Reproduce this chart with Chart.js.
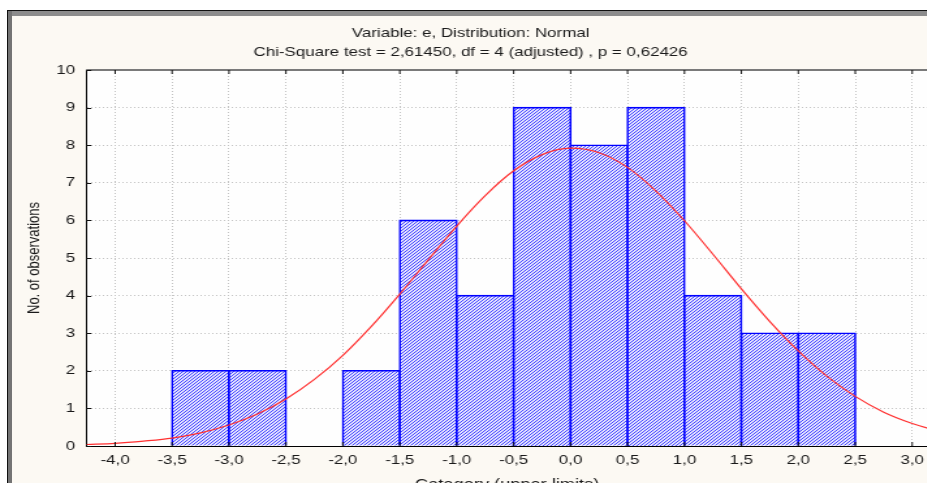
<!DOCTYPE html>
<html>
<head>
<meta charset="utf-8">
<script src="https://cdn.jsdelivr.net/npm/chart.js@4.4.0/dist/chart.umd.min.js"></script>
<style>
  html, body { margin: 0; padding: 0; width: 927px; height: 483px; overflow: hidden; background: #ffffff; }
  #frame {
    position: absolute; left: 7px; top: 10px; right: 0; bottom: 0;
    border-top: 1px solid #111; border-left: 1px solid #111;
    background: #fcf9f3;
  }
  #frame .bevelTop { position: absolute; left: 0; right: 0; top: 0; height: 5px; background: #8c8c8c; }
  #frame .bevelLeft { position: absolute; left: 0; top: 0; bottom: 0; width: 4px; background: #747474; }
  #clip { position: absolute; left: 0; top: 0; width: 927px; height: 483px; overflow: hidden; }
  /* the graph window is drawn in a wide, horizontally stretched style */
  #wrap {
    position: absolute; left: 13px; top: 16px; width: 756.9px; height: 490px;
    transform: scaleX(1.3); transform-origin: 0 0;
  }
</style>
</head>
<body>
<div id="frame"><div class="bevelTop"></div><div class="bevelLeft"></div></div>
<div id="clip"><div id="wrap"><canvas id="c"></canvas></div></div>
<script>
// Histogram of residual e: class upper limits and observed counts per class
const binUpperLimits = [-3.0, -2.5, -2.0, -1.5, -1.0, -0.5, 0.0, 0.5, 1.0, 1.5, 2.0, 2.5];
const observedCounts = [2, 2, 0, 2, 6, 4, 9, 8, 9, 4, 3, 3];
const binWidth = 0.5;

// Expected frequencies of the fitted normal curve
const curveX = [-4.25, -4.0, -3.75, -3.5, -3.25, -3.0, -2.75, -2.5, -2.25, -2.0, -1.75, -1.5,
                -1.25, -1.0, -0.75, -0.5, -0.25, 0.0, 0.25, 0.5, 0.75, 1.0, 1.25, 1.5,
                1.75, 2.0, 2.25, 2.5, 2.75, 3.0, 3.25];
const curveY = [0.04, 0.07, 0.13, 0.21, 0.35, 0.56, 0.85, 1.25, 1.77, 2.41, 3.18, 4.04,
                4.95, 5.85, 6.66, 7.32, 7.75, 7.92, 7.80, 7.41, 6.78, 5.99, 5.10, 4.18,
                3.31, 2.53, 1.86, 1.32, 0.90, 0.60, 0.38];

const titleLines = [
  'Variable: e, Distribution: Normal',
  'Chi-Square test = 2,61450, df = 4 (adjusted) , p = 0,62426'
];
const yAxisTitle = 'No. of observations';
const xAxisTitle = 'Category (upper limits)';

const xMin = -4.255, xMax = 3.141, xStep = 0.5;
const yMin = 0, yMax = 10, yStep = 1;

const FONT = 'Liberation Sans, Arial, sans-serif';

// Diagonal blue hatching used to fill the bars
function hatchPattern() {
  const t = document.createElement('canvas');
  t.width = 3; t.height = 3;
  const g = t.getContext('2d');
  g.fillStyle = '#e2e2ff';
  g.fillRect(0, 0, 3, 3);
  g.fillStyle = '#4646ff';
  for (let i = 0; i < 3; i++) g.fillRect(i, 2 - i, 1, 1);
  return g.createPattern(t, 'repeat');
}

const barPoints = binUpperLimits
  .map((u, i) => ({ x: u - binWidth / 2, y: observedCounts[i] }))
  .filter(p => p.y > 0);
const curvePoints = curveX.map((x, i) => ({ x, y: curveY[i] }));

const fmtComma = v => (Math.abs(v) < 1e-9 ? 0 : v).toFixed(1).replace('.', ',');

// White plot background plus inward tick marks and the upper frame line
const plotFrame = {
  id: 'plotFrame',
  beforeDraw(chart) {
    const { ctx, chartArea: a } = chart;
    ctx.save();
    ctx.fillStyle = '#fefefe';
    ctx.fillRect(a.left, a.top, a.right - a.left, a.bottom - a.top);
    ctx.restore();
  },
  afterDraw(chart) {
    const { ctx, chartArea: a, scales: { x, y } } = chart;
    ctx.save();
    ctx.strokeStyle = '#7a7a7a';
    ctx.lineWidth = 2;
    ctx.beginPath();
    ctx.moveTo(a.left, a.top);
    ctx.lineTo(a.right, a.top);
    ctx.stroke();
    ctx.strokeStyle = '#111';
    ctx.lineWidth = 1;
    ctx.beginPath();
    x.ticks.forEach(t => {
      const px = x.getPixelForValue(t.value);
      ctx.moveTo(px, a.bottom); ctx.lineTo(px, a.bottom - 4);
      ctx.moveTo(px, a.top); ctx.lineTo(px, a.top + 4);
    });
    y.ticks.forEach(t => {
      const py = Math.round(y.getPixelForValue(t.value)) + 0.5;
      ctx.moveTo(a.left, py); ctx.lineTo(a.left + 4, py);
    });
    ctx.stroke();
    ctx.restore();
  }
};

new Chart(document.getElementById('c'), {
  data: {
    datasets: [
      {
        type: 'line',
        data: curvePoints,
        borderColor: '#ff3030',
        borderWidth: 1.2,
        pointRadius: 0,
        cubicInterpolationMode: 'monotone',
        order: 1
      },
      {
        type: 'bar',
        data: barPoints,
        backgroundColor: hatchPattern(),
        borderColor: '#0000ff',
        borderWidth: 1.6,
        inflateAmount: 0.8,
        barPercentage: 1,
        categoryPercentage: 1,
        order: 2
      }
    ]
  },
  options: {
    responsive: true,
    maintainAspectRatio: false,
    animation: false,
    layout: { padding: { left: 0, right: 53.8, top: 0, bottom: 0 } },
    plugins: {
      legend: { display: false },
      tooltip: { enabled: false },
      title: {
        display: true,
        text: titleLines,
        color: '#1a1a1a',
        font: { family: FONT, size: 13, weight: 'normal', lineHeight: 19 / 13 },
        padding: { top: 7.5, bottom: 8.5 }
      }
    },
    scales: {
      x: {
        type: 'linear',
        offset: false,
        min: xMin, max: xMax,
        afterFit(s) { s.height = 60; },
        ticks: {
          stepSize: xStep,
          includeBounds: false,
          autoSkip: false,
          maxRotation: 0,
          padding: 7,
          color: '#1a1a1a',
          font: { family: FONT, size: 13 },
          callback: v => fmtComma(v)
        },
        grid: { offset: false, color: '#c4c4c4', drawTicks: false, tickLength: 0 },
        border: { display: true, color: '#000', width: 1, dash: [1, 2] },
        title: {
          display: true,
          text: xAxisTitle,
          color: '#1a1a1a',
          font: { family: FONT, size: 14 },
          padding: { top: 0, bottom: 12.6 }
        }
      },
      y: {
        min: yMin, max: yMax,
        afterFit(s) { s.width = 56.15; },
        ticks: {
          stepSize: yStep,
          padding: 8.45,
          color: '#1a1a1a',
          font: { family: FONT, size: 13 }
        },
        grid: { color: '#c4c4c4', drawTicks: false, tickLength: 0 },
        border: { display: true, color: '#000', width: 1, dash: [1, 2] },
        title: {
          display: true,
          text: yAxisTitle,
          color: '#1a1a1a',
          font: { family: FONT, size: 13 },
          padding: { top: 9.1, bottom: 0 }
        }
      }
    }
  },
  plugins: [plotFrame]
});
</script>
</body>
</html>
